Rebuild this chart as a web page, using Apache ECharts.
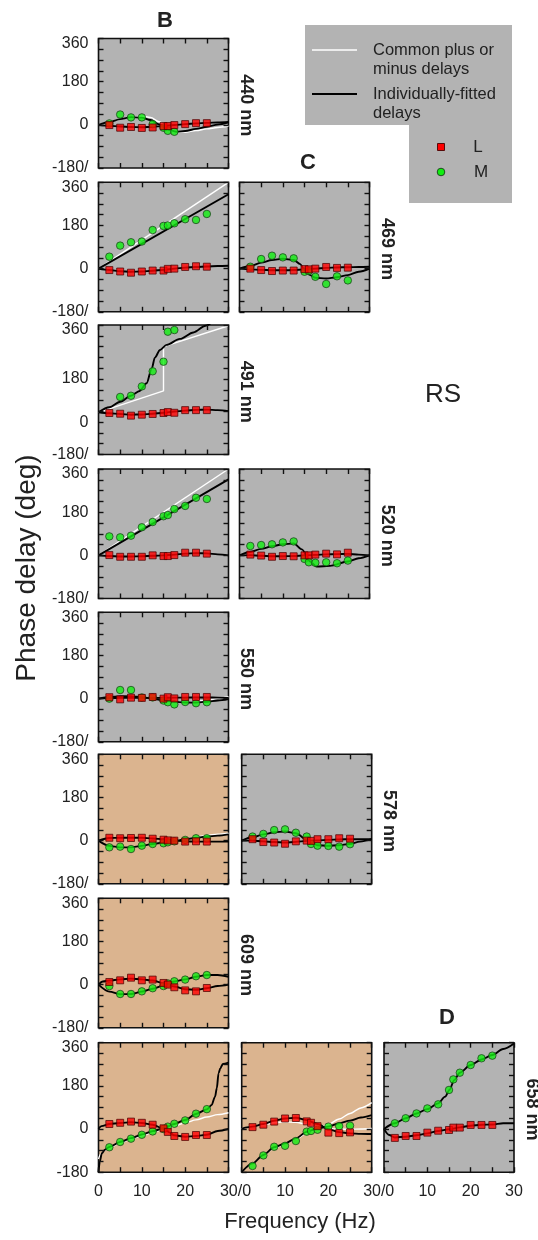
<!DOCTYPE html>
<html><head><meta charset="utf-8">
<script src="https://cdn.jsdelivr.net/npm/echarts/dist/echarts.min.js"></script>
<style>html,body{margin:0;padding:0;background:#fff}#c{width:538px;height:1240px}</style>
</head><body><div id="c"></div><script>
// ---------- DATA ----------
const freq = [2.5,5,7.5,10,12.5,15,16,17.5,20,22.5,25];
const yTicks = [-180,0,180,360];
const xTicks = [0,10,20,30];

const L_440B = [-1,-12,-9,-13,-11,-5,-5,-1,3,7,7];
const M_440B = [6,43,31,31,3,-12,-25,-29,null,null,null];
const fitL_440B = [[0,0],[2.5,-4],[5,-7],[7.5,-9],[10,-10],[12.5,-8],[15,-5],[17.5,-1],[20,3],[22.5,6],[25,8],[27.5,10],[30,12]];
const fitM_440B = [[0,0],[2.5,12],[5,24],[7.5,32],[10,30],[12,20],[14,2],[16,-20],[18,-29],[20,-26],[22.5,-17],[25,-8],[27.5,1],[30,10]];
const comM_440B = [[0,0],[2.5,12],[5,24],[7.5,32],[10,36],[12,31],[14,13],[16,-12],[18,-28],[20,-31],[22.5,-24],[25,-17],[27.5,-11],[30,-5]];

const L_469B = [-6,-12,-17,-12,-8,-8,-1,0,7,10,8];
const M_469B = [50,96,110,113,161,178,180,189,206,203,228];
const fitL_469B = [[0,0],[2.5,-6],[5,-11],[7.5,-13],[10,-12],[12.5,-9],[15,-5],[17.5,0],[20,4],[22.5,7],[25,9],[27.5,11],[30,12]];
const fitM_469B = [[0,0],[30,310]];
const comM_469B = [[0,0],[30,360]];

const L_469C = [0,-6,-10,-8,-8,-2,-3,0,7,3,4];
const M_469C = [8,40,54,47,43,-13,-10,-34,-64,-32,-49];
const fitL_469C = [[0,0],[2.5,-3],[5,-5],[7.5,-7],[10,-7],[12.5,-6],[15,-3],[17.5,0],[20,3],[22.5,5],[25,6],[27.5,7],[30,8]];
const fitM_469C = [[0,0],[2.5,11],[5,25],[7.5,36],[10,41],[12.5,36],[14,19],[15,-6],[16.3,-27],[17.5,-38],[20,-41],[22.5,-36],[25,-27],[27.5,-13],[30,0]];

const L_491B = [38,35,27,31,34,38,42,39,50,50,50];
const M_491B = [null,105,110,149,212,252,377,384,null,null,null];
const fitL_491B = [[0,41],[2.5,37],[5,34],[7.5,31],[10,32],[12.5,35],[15,39],[17.5,44],[20,48],[22.5,51],[25,52],[27.5,50],[30,46]];
const fitM_491B = [[0,41],[2.5,62],[5,85],[7.5,110],[9.5,130],[11.1,162],[12.3,224],[13,269],[14.2,301],[15.7,322],[18.8,347],[21.9,374],[24.7,402],[27,430]];
const comM_491B = [[0,41],[15,130],[15,315],[30,402]];

const L_520B = [1,-6,-6,-6,0,-3,-3,1,11,11,7];
const M_520B = [79,75,82,117,139,163,168,193,206,240,235];
const fitL_520B = [[0,0],[2.5,-3],[5,-5],[7.5,-5],[10,-4],[12.5,-2],[15,0],[17.5,3],[20,7],[22.5,9],[25,8],[27.5,4],[30,0]];
const fitM_520B = [[0,0],[30,317]];
const comM_520B = [[0,0],[30,360]];

const L_520C = [3,-1,-6,-3,-4,0,0,3,7,4,11];
const M_520C = [39,43,46,54,58,-15,-29,-31,-29,-33,-22];
const fitL_520C = [[0,0],[2.5,1],[5,-2],[7.5,-4],[10,-4],[12.5,-3],[15,0],[17.5,2],[20,4],[22.5,5],[25,6],[27.5,3],[30,0]];
const fitM_520C = [[0,0],[2.5,14],[5,27],[7.5,38],[10,46],[12.5,50],[14.4,25],[16.3,-26],[17.8,-47],[20.9,-44],[25,-26],[27.5,-12],[30,0]];

const L_550B = [6,-3,4,3,7,0,6,1,7,7,7];
const M_550B = [0,36,36,5,5,-8,-15,-24,-14,-19,-15];
const fitL_550B = [[0,0],[2.5,2],[5,3],[7.5,3],[10,3],[12.5,3],[15,3],[17.5,4],[20,4],[22.5,5],[25,5],[27.5,4],[30,3]];
const fitM_550B = [[0,0],[2.5,6],[5,10],[7.5,10],[10,6],[12.5,0],[15,-7],[17.5,-13],[20,-16],[22.5,-16],[25,-13],[27.5,-8],[30,-2]];
const comM_550B = [[0,0],[2.5,6],[5,10],[7.5,10],[10,6],[12.5,0],[15,-7],[17.5,-13],[20,-15],[22.5,-12],[25,-6],[27.5,1],[30,8]];

const L_578B = [12,10,11,12,8,4,1,0,-4,-3,-4];
const M_578B = [-28,-25,-35,-21,-14,-11,-7,-3,3,10,10];
const fitL_578B = [[0,0],[2.5,11],[5,12],[7.5,12],[10,12],[12.5,9],[15,6],[17.5,1],[20,-3],[22.5,-4],[25,-4],[27.5,-4],[30,-4]];
const fitM_578B = [[0,0],[2.5,-22],[5,-28],[7.5,-28],[10,-22],[12.5,-14],[15,-8],[17.5,-3],[20,6],[22.5,12],[25,17],[27.5,21],[30,26]];
const comM_578B = [[0,0],[2.5,-22],[5,-28],[7.5,-28],[10,-22],[12.5,-14],[15,-8],[17.5,-2],[20,7],[22.5,15],[25,22],[27.5,27],[30,31]];

const L_578C = [6,-6,-8,-13,-3,0,-1,6,6,10,8];
const M_578C = [17,28,44,47,33,17,-14,-21,-22,-25,-15];
const fitL_578C = [[0,0],[2.5,0],[5,-3],[7.5,-6],[10,-8],[12.5,-5],[15,-1],[17.5,1],[20,3],[22.5,5],[25,6],[27.5,6],[30,6]];
const fitM_578C = [[0,0],[2.5,14],[5,26],[7.5,35],[10,38],[12.5,31],[14.9,6],[16.2,-11],[17.5,-19],[19.9,-22],[22.4,-19],[24.8,-14],[27.3,-4],[30,6]];

const L_609B = [11,18,29,18,21,7,0,-11,-24,-28,-14];
const M_609B = [-6,-39,-39,-28,-15,-6,5,14,21,35,40];
const fitL_609B = [[0,0],[1,13],[2.5,17],[5,22],[7.5,25],[10,22],[12.5,17],[15,6],[17.5,-8],[20,-19],[22.5,-22],[25,-15],[27.5,-6],[30,0]];
const fitM_609B = [[0,0],[2.5,-29],[5,-40],[7.5,-39],[10,-29],[12.5,-17],[15,-3],[17.5,13],[20,22],[22.5,33],[25,40],[27.5,40],[30,33]];

const L_658B = [21,26,31,26,18,3,-12,-29,-33,-25,-25];
const M_658B = [-76,-54,-40,-24,-10,0,10,22,36,64,83];
const fitL_658B = [[0,0],[0.7,12],[2.5,21],[5,25],[7.5,28],[10,25],[12.5,18],[15,1],[16.5,-15],[17.4,-26],[20,-32],[22.5,-29],[25,-24],[27.5,-8],[30,0]];
const fitM_658B = [[0,-180],[0.3,-136],[0.77,-101],[1.5,-86],[2.5,-75],[5,-54],[7.5,-38],[10,-23],[12.5,-9],[15,3],[17.5,21],[20,38],[22.5,63],[25,82],[26.1,100],[26.9,135],[27.3,170],[27.7,232],[28.1,253],[28.7,271],[30,277]];
const comM_658B = [[0,-125],[0.5,-105],[1.5,-88],[2.5,-78],[5,-58],[7.5,-42],[10,-28],[12.5,-14],[15,-2],[17.5,12],[20,26],[22.5,38],[25,50],[27.5,60],[30,68]];

const L_658C = [8,18,31,44,46,32,26,12,-15,-17,-14];
const M_658C = [-154,-110,-74,-70,-50,-11,-8,-3,10,12,14];
const fitL_658C = [[0,2],[2.5,10],[5,21],[7.5,35],[10,44],[12.5,47],[15,37],[17.5,21],[20,-1],[22.5,-13],[25,-18],[27.5,-20],[30,-21]];
const comL_658C = [[0,2],[2.5,10],[5,18],[7.5,26],[10,30],[12.5,28],[15,20],[17.5,9],[20,2],[22.5,-1],[25,-1],[27.5,0],[30,2]];
const fitM_658C = [[0,-180],[2.5,-143],[5,-108],[7.5,-76],[10,-60],[12.5,-39],[15,-12],[17.5,3],[20,10],[22.5,24],[25,35],[27.5,48],[30,58]];
const comM_658C = [[0,-180],[2.5,-143],[5,-108],[7.5,-80],[10,-62],[12.5,-42],[15,-18],[17.5,2],[20,20],[22.5,42],[25,65],[27.5,88],[30,110]];

const L_658D = [-37,-29,-29,-15,-7,-4,6,6,17,17,17];
const M_658D = [24,45,65,86,103,163,207,235,267,295,306];
const fitL_658D = [[0,0],[1.2,-25],[2.5,-35],[5,-32],[7.5,-26],[10,-18],[12.5,-8],[15,-1],[17.5,7],[20,14],[22.5,18],[25,19],[27.5,24],[30,24]];
const fitM_658D = [[0,0],[2.5,24],[5,45],[7.5,65],[10,83],[12.5,107],[14.1,135],[15.1,163],[16.2,204],[17.5,235],[20,267],[22.5,290],[25,309],[27.5,334],[30,357]];

// ---------- LAYOUT / STYLE ----------
const GRAY = '#b3b3b3', TAN = '#dbb48f';
const FONT = '"Liberation Sans", Arial, sans-serif';
const rowTop = [38.5,182.3,325,469,612.3,754.3,898.3,1042.7];
const PH = 129.5, PW = 130;
const colLeft = [[98.5,98.5,98.5,98.5,98.5,98.5,98.5,98.5],[239.5,239.5,239.5,239.5,239.5,241.7,241.7,241.7],[384,384,384,384,384,384,384,384]];

const panels = [
  {row:0,col:0,bg:GRAY,L:L_440B,M:M_440B,fit:[fitL_440B,fitM_440B],com:[comM_440B]},
  {row:1,col:0,bg:GRAY,L:L_469B,M:M_469B,fit:[fitL_469B,fitM_469B],com:[comM_469B]},
  {row:1,col:1,bg:GRAY,L:L_469C,M:M_469C,fit:[fitL_469C,fitM_469C],com:[]},
  {row:2,col:0,bg:GRAY,L:L_491B,M:M_491B,fit:[fitL_491B,fitM_491B],com:[comM_491B],ymin:-135,ymax:405,jump:true},
  {row:3,col:0,bg:GRAY,L:L_520B,M:M_520B,fit:[fitL_520B,fitM_520B],com:[comM_520B]},
  {row:3,col:1,bg:GRAY,L:L_520C,M:M_520C,fit:[fitL_520C,fitM_520C],com:[]},
  {row:4,col:0,bg:GRAY,L:L_550B,M:M_550B,fit:[fitL_550B,fitM_550B],com:[comM_550B]},
  {row:5,col:0,bg:TAN,L:L_578B,M:M_578B,fit:[fitL_578B,fitM_578B],com:[comM_578B]},
  {row:5,col:1,bg:GRAY,L:L_578C,M:M_578C,fit:[fitL_578C,fitM_578C],com:[]},
  {row:6,col:0,bg:TAN,L:L_609B,M:M_609B,fit:[fitL_609B,fitM_609B],com:[]},
  {row:7,col:0,bg:TAN,L:L_658B,M:M_658B,fit:[fitL_658B,fitM_658B],com:[comM_658B]},
  {row:7,col:1,bg:TAN,L:L_658C,M:M_658C,fit:[fitL_658C,fitM_658C],com:[comL_658C,comM_658C]},
  {row:7,col:2,bg:GRAY,L:L_658D,M:M_658D,fit:[fitL_658D,fitM_658D],com:[]}
];
const rowLabels = [
  {row:0,col:0,text:'440 nm'},{row:1,col:1,text:'469 nm'},{row:2,col:0,text:'491 nm'},
  {row:3,col:1,text:'520 nm'},{row:4,col:0,text:'550 nm'},{row:5,col:1,text:'578 nm'},
  {row:6,col:0,text:'609 nm'},{row:7,col:2,text:'658 nm'}
];

const grids=[], xAxes=[], yAxes=[], series=[];
const tickStyle = {show:true, inside:true, length:5, lineStyle:{color:'#111', width:1.4}};
const noLine = {show:false, onZero:false};
panels.forEach((p,i)=>{
  const left = colLeft[p.col][p.row], top = rowTop[p.row];
  const ymin = p.ymin ?? -180, ymax = p.ymax ?? 360;
  const lastRow = p.row === 7;
  grids.push({left:left, top:top, width:PW, height:PH, show:true, backgroundColor:p.bg, borderColor:'#111', borderWidth:1.6, containLabel:false, z:-1});
  const xa = {type:'value', gridIndex:i, min:0, max:30, interval:5, axisLine:noLine, splitLine:{show:false}, axisTick:tickStyle, z:6};
  xAxes.push(Object.assign({}, xa, {position:'bottom',
    axisLabel:{show:lastRow, margin:11, fontSize:16, fontFamily:FONT, color:'#222',
      formatter:(v)=>{
        if (v%10!==0) return '';
        if (v===0 && p.col>0) return '';
        if (v===30 && p.col<2) return '{s|30/0}';
        return String(v);
      },
      rich:{s:{fontSize:16, fontFamily:FONT, color:'#222', padding:[0,0,0,14]}}
    }}));
  xAxes.push(Object.assign({}, xa, {position:'top', axisLabel:{show:false}}));
  const ya = {type:'value', gridIndex:i, min:ymin, max:ymax, interval:45, axisLine:noLine, splitLine:{show:false}, axisTick:tickStyle, z:6};
  yAxes.push(Object.assign({}, ya, {position:'left',
    axisLabel:{show:p.col===0, margin:10, fontSize:16, fontFamily:FONT, color:'#222',
      formatter:(v)=>{
        if (v===ymax) return '{t|360}';
        if (v===ymin) return lastRow ? '-180' : '-180/';
        if (v===180 || v===0) return String(v);
        return '';
      },
      rich:{t:{fontSize:16, fontFamily:FONT, color:'#222', padding:[10,0,0,0]}}
    }}));
  yAxes.push(Object.assign({}, ya, {position:'right', axisLabel:{show:false}}));
  const xi = 2*i, yi = 2*i;
  p.com.forEach(d=>{
    const isJump = p.jump && d===comM_491B;
    series.push({type:'line', xAxisIndex:xi, yAxisIndex:yi, data:d, showSymbol:false, symbol:'none',
      smooth: isJump ? false : 0.3, smoothMonotone:'x', lineStyle:{color:'#ffffff', width:1.4}, z:2, silent:true, clip:true});
  });
  p.fit.forEach(d=>{
    series.push({type:'line', xAxisIndex:xi, yAxisIndex:yi, data:d, showSymbol:false, symbol:'none',
      smooth:0.3, smoothMonotone:'x', lineStyle:{color:'#000000', width:1.9}, z:3, silent:true, clip:true});
  });
  series.push({type:'scatter', xAxisIndex:xi, yAxisIndex:yi, symbol:'circle', symbolSize:7.5,
    data: freq.map((f,k)=>[f,p.M[k]]).filter(d=>d[1]!==null),
    itemStyle:{color:'#11ee11', borderColor:'#1b3b1b', borderWidth:0.9}, z:4});
  series.push({type:'scatter', xAxisIndex:xi, yAxisIndex:yi, symbol:'rect', symbolSize:7,
    data: freq.map((f,k)=>[f,p.L[k]]).filter(d=>d[1]!==null),
    itemStyle:{color:'#ff0000', borderColor:'#4a0000', borderWidth:0.9}, z:5});
});

const graphic = [];
rowLabels.forEach(r=>{
  graphic.push({type:'text', x: colLeft[r.col][r.row] + PW + 17.5, y: rowTop[r.row] + PH/2 + 2, rotation:-Math.PI/2,
    style:{text:r.text, font:'bold 18px '+FONT, fill:'#222', textAlign:'center', textVerticalAlign:'middle'}});
});
// column letters
graphic.push({type:'text', x:165, y:21, style:{text:'B', font:'bold 22px '+FONT, fill:'#222', textAlign:'center', textVerticalAlign:'middle'}});
graphic.push({type:'text', x:308, y:163, style:{text:'C', font:'bold 22px '+FONT, fill:'#222', textAlign:'center', textVerticalAlign:'middle'}});
graphic.push({type:'text', x:447, y:1018, style:{text:'D', font:'bold 22px '+FONT, fill:'#222', textAlign:'center', textVerticalAlign:'middle'}});
graphic.push({type:'text', x:443, y:395, style:{text:'RS', font:'26px '+FONT, fill:'#222', textAlign:'center', textVerticalAlign:'middle'}});
// axis titles
graphic.push({type:'text', x:27, y:568, rotation:Math.PI/2, style:{text:'Phase delay (deg)', font:'28px '+FONT, fill:'#222', textAlign:'center', textVerticalAlign:'middle'}});
graphic.push({type:'text', x:300, y:1222, style:{text:'Frequency (Hz)', font:'22px '+FONT, fill:'#222', textAlign:'center', textVerticalAlign:'middle'}});
// legend
graphic.push({type:'rect', shape:{x:305, y:25, width:207, height:100}, style:{fill:GRAY}, z:0});
graphic.push({type:'rect', shape:{x:409, y:124, width:103, height:79}, style:{fill:GRAY}, z:0});
graphic.push({type:'line', shape:{x1:312, y1:50, x2:357, y2:50}, style:{stroke:'#fff', lineWidth:1.5}});
graphic.push({type:'line', shape:{x1:312, y1:94, x2:357, y2:94}, style:{stroke:'#000', lineWidth:2}});
const legTexts = [['Common plus or',50],['minus delays',69],['Individually-fitted',94],['delays',113]];
legTexts.forEach(t=>graphic.push({type:'text', x:373, y:t[1], style:{text:t[0], font:'16.5px '+FONT, fill:'#222', textAlign:'left', textVerticalAlign:'middle'}}));
graphic.push({type:'rect', shape:{x:437.5, y:143.5, width:7, height:7}, style:{fill:'#ff0000', stroke:'#4a0000', lineWidth:0.9}});
graphic.push({type:'circle', shape:{cx:441, cy:172, r:3.8}, style:{fill:'#11ee11', stroke:'#1b3b1b', lineWidth:0.9}});
graphic.push({type:'text', x:478, y:147, style:{text:'L', font:'17px '+FONT, fill:'#222', textAlign:'center', textVerticalAlign:'middle'}});
graphic.push({type:'text', x:481, y:172, style:{text:'M', font:'17px '+FONT, fill:'#222', textAlign:'center', textVerticalAlign:'middle'}});

const chart = echarts.init(document.getElementById('c'), null, {renderer:'canvas'});
chart.setOption({animation:false, backgroundColor:'#fff', grid:grids, xAxis:xAxes, yAxis:yAxes, series:series, graphic:graphic});
</script></body></html>
